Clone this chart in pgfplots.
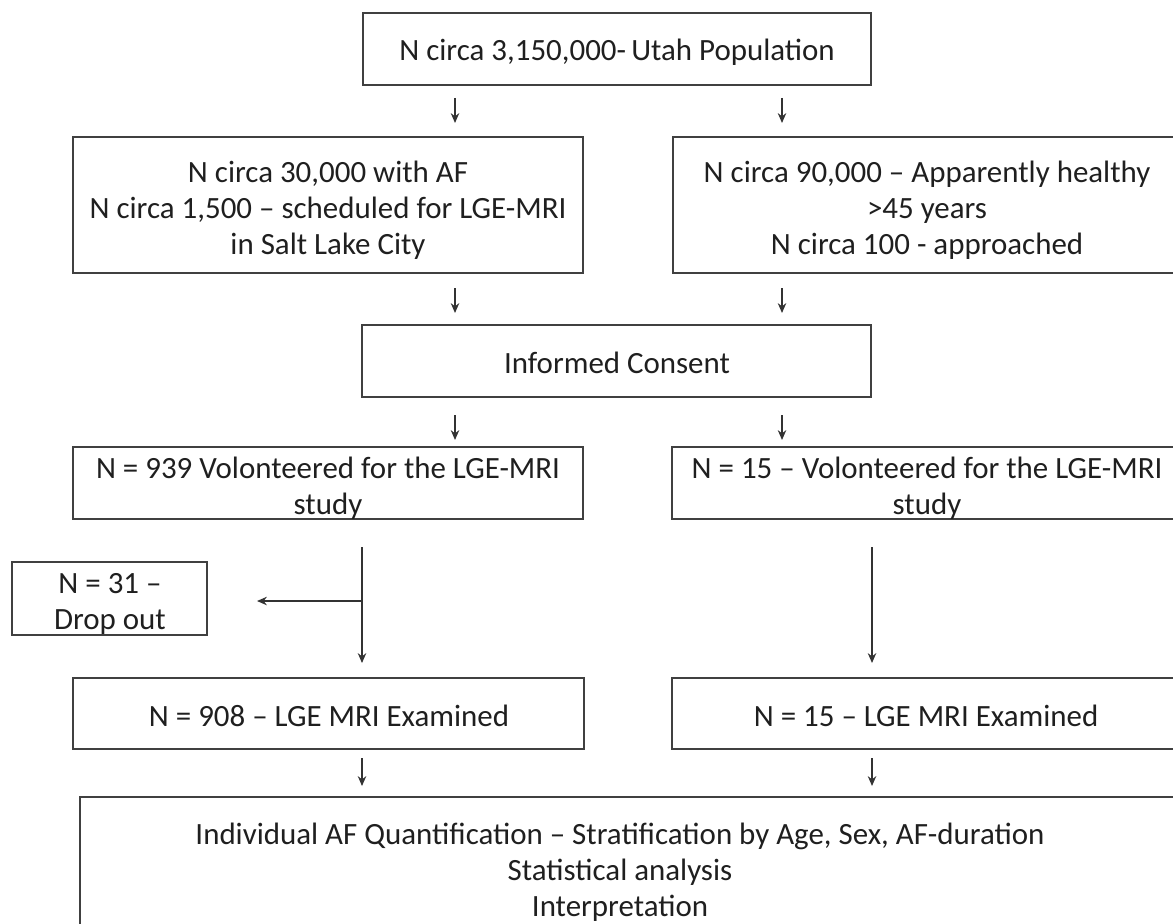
\documentclass[border=0pt]{standalone}
\usepackage{fontspec}
\setmainfont{Carlito}
\usepackage{pgfplots}
\pgfplotsset{compat=1.18}
\usetikzlibrary{arrows.meta}

\tikzset{
  box/.style={line width=0.6pt, color=black!75, line cap=rect, line join=miter, mark=none},
  arr/.style={line width=0.45pt, color=black!80, mark=none, -{Stealth[length=2.8pt,width=2.4pt]}},
  conn/.style={line width=0.6pt, color=black!70, mark=none},
  lbl/.style={font=\fontsize{8.8}{10.24}\selectfont, align=center, text=black!88, inner sep=0pt},
}

\begin{document}
\begin{tikzpicture}
\begin{axis}[
    name=ax,
    width=117.3mm, height=92.3mm, scale only axis,
    xmin=0, xmax=1173, ymin=0, ymax=923,
    y dir=reverse,
    axis lines=none, ticks=none,
    clip=true,
]
% boxes (pixel coordinates, y downwards); some run off the right edge
\addplot[box] coordinates {(363,13) (871,13) (871,85) (363,85) (363,13)};
\addplot[box] coordinates {(73,137) (583,137) (583,273) (73,273) (73,137)};
\addplot[box] coordinates {(1173,137) (673,137) (673,273) (1173,273)};
\addplot[box] coordinates {(362,325) (871,325) (871,397) (362,397) (362,325)};
\addplot[box] coordinates {(73,447) (583,447) (583,519) (73,519) (73,447)};
\addplot[box] coordinates {(1173,447) (672,447) (672,519) (1173,519)};
\addplot[box] coordinates {(12,562) (207,562) (207,635) (12,635) (12,562)};
\addplot[box] coordinates {(73,678) (584,678) (584,749) (73,749) (73,678)};
\addplot[box] coordinates {(1173,678) (672,678) (672,749) (1173,749)};
\addplot[box] coordinates {(1173,797) (80,797) (80,923)};

% arrows
\addplot[arr] coordinates {(455,98) (455,123)};
\addplot[arr] coordinates {(782,98) (782,123)};
\addplot[arr] coordinates {(455,288) (455,313)};
\addplot[arr] coordinates {(782,288) (782,313)};
\addplot[arr] coordinates {(455,415) (455,440)};
\addplot[arr] coordinates {(782,415) (782,440)};
\addplot[arr] coordinates {(362,547) (362,663)};
\addplot[arr] coordinates {(362,601) (257,601)};
\addplot[arr] coordinates {(872,547) (872,663)};
\addplot[arr] coordinates {(362,758) (362,786)};
\addplot[arr] coordinates {(872,758) (872,786)};

% labels
\node[lbl] at (axis cs:617,52) {N circa 3,150,000-\,Utah Population};
\node[lbl] at (axis cs:328,210) {N circa 30,000 with AF\\N circa 1,500 -- scheduled for LGE-MRI\\in Salt Lake City};
\node[lbl] at (axis cs:927,210) {N circa 90,000 -- Apparently healthy\\>45 years\\N circa 100 - approached};
\node[lbl] at (axis cs:617,363) {Informed Consent};
\node[lbl] at (axis cs:328,488) {N = 939 Volonteered for the LGE-MRI\\study};
\node[lbl] at (axis cs:927,488) {N = 15 -- Volonteered for the LGE-MRI\\study};
\node[lbl] at (axis cs:110,604) {N = 31 --\\Drop out};
\node[lbl] at (axis cs:329,716) {N = 908 -- LGE MRI Examined};
\node[lbl] at (axis cs:926,716) {N = 15 -- LGE MRI Examined};
\node[lbl] at (axis cs:620,872) {Individual AF Quantification -- Stratification by Age, Sex, AF-duration\\Statistical analysis\\Interpretation};
\end{axis}
\pgfresetboundingbox
\path (ax.south west) rectangle (ax.north east);
\end{tikzpicture}
\end{document}
